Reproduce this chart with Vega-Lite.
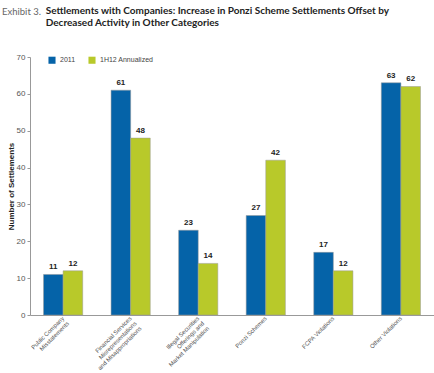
{
  "$schema": "https://vega.github.io/schema/vega-lite/v6.json",
  "width": 404,
  "height": 258,
  "autosize": {"type": "none"},
  "padding": {"left": 30, "top": 57, "right": 0, "bottom": 58},
  "background": "white",
  "title": {
    "text": "Exhibit 3.",
    "subtitle": ["\u200b\u00a0\u00a0\u00a0\u00a0\u00a0\u00a0\u00a0\u00a0\u00a0\u00a0\u00a0\u00a0\u00a0\u00a0\u00a0\u00a0\u00a0\u00a0Settlements with Companies:  Increase in Ponzi Scheme Settlements Offset by", "\u200b\u00a0\u00a0\u00a0\u00a0\u00a0\u00a0\u00a0\u00a0\u00a0\u00a0\u00a0\u00a0\u00a0\u00a0\u00a0\u00a0\u00a0\u00a0Decreased Activity in Other Categories"],
    "anchor": "start",
    "frame": "group",
    "dx": -28,
    "offset": 24,
    "font": "Lato",
    "fontSize": 9.5,
    "fontWeight": "normal",
    "color": "#666666",
    "subtitleFont": "Lato",
    "subtitleFontSize": 10,
    "subtitleFontWeight": "bold",
    "subtitleColor": "#222222",
    "subtitleLineHeight": 12,
    "subtitlePadding": -11
  },
  "data": {
    "values": [
      {"category": "Public Company|Misstatements", "series": "2011", "value": 11},
      {"category": "Public Company|Misstatements", "series": "1H12 Annualized", "value": 12},
      {"category": "Financial Services|Misrepresentations|and Misappropriations", "series": "2011", "value": 61},
      {"category": "Financial Services|Misrepresentations|and Misappropriations", "series": "1H12 Annualized", "value": 48},
      {"category": "Illegal Securities|Offerings and|Market Manipulation", "series": "2011", "value": 23},
      {"category": "Illegal Securities|Offerings and|Market Manipulation", "series": "1H12 Annualized", "value": 14},
      {"category": "Ponzi Schemes", "series": "2011", "value": 27},
      {"category": "Ponzi Schemes", "series": "1H12 Annualized", "value": 42},
      {"category": "FCPA Violations", "series": "2011", "value": 17},
      {"category": "FCPA Violations", "series": "1H12 Annualized", "value": 12},
      {"category": "Other Violations", "series": "2011", "value": 63},
      {"category": "Other Violations", "series": "1H12 Annualized", "value": 62}
    ]
  },
  "encoding": {
    "x": {
      "field": "category",
      "type": "nominal",
      "sort": null,
      "scale": {"paddingInner": 0.42, "paddingOuter": 0.2},
      "axis": {
        "title": null,
        "labelExpr": "split(datum.label, '|')",
        "labelAngle": -45,
        "labelAlign": "right",
        "labelBaseline": "middle",
        "labelFont": "Liberation Sans",
        "labelFontSize": 6,
        "labelColor": "#555555",
        "labelLineHeight": 7,
        "labelPadding": 2,
        "labelDx": 9,
        "labelDy": -2,
        "ticks": false,
        "domainColor": "#999999",
        "domainWidth": 1
      }
    },
    "xOffset": {"field": "series", "type": "nominal", "sort": ["2011", "1H12 Annualized"], "scale": {"paddingInner": 0}},
    "y": {
      "field": "value",
      "type": "quantitative",
      "scale": {"domain": [0, 70]},
      "axis": {
        "title": "Number of Settlements",
        "titleFont": "Liberation Sans",
        "titleFontSize": 8,
        "titleFontWeight": "bold",
        "titleColor": "#222222",
        "titlePadding": 1,
        "values": [0, 10, 20, 30, 40, 50, 60, 70],
        "labelFont": "Liberation Sans",
        "labelFontSize": 8,
        "labelColor": "#555555",
        "grid": false,
        "domainColor": "#999999",
        "tickColor": "#999999",
        "tickSize": 3,
        "labelPadding": 2
      }
    }
  },
  "layer": [
    {
      "mark": {"type": "bar", "stroke": "#999999", "strokeWidth": 0.5},
      "encoding": {
        "color": {
          "field": "series",
          "type": "nominal",
          "sort": ["2011", "1H12 Annualized"],
          "scale": {"domain": ["2011", "1H12 Annualized"], "range": ["#0563a8", "#b8c92a"]},
          "legend": {
            "title": null,
            "orient": "none",
            "legendX": 18,
            "legendY": -1,
            "direction": "horizontal",
            "symbolType": "square",
            "symbolSize": 50,
            "symbolStrokeWidth": 0,
            "labelFont": "Liberation Sans",
            "labelFontSize": 7,
            "labelColor": "#444444",
            "columnPadding": 12
          }
        }
      }
    },
    {
      "mark": {"type": "text", "dy": -7, "font": "Liberation Sans", "fontSize": 8, "fontWeight": "bold", "color": "#222222"},
      "encoding": {"text": {"field": "value", "type": "quantitative"}}
    }
  ],
  "config": {"view": {"stroke": null}}
}
